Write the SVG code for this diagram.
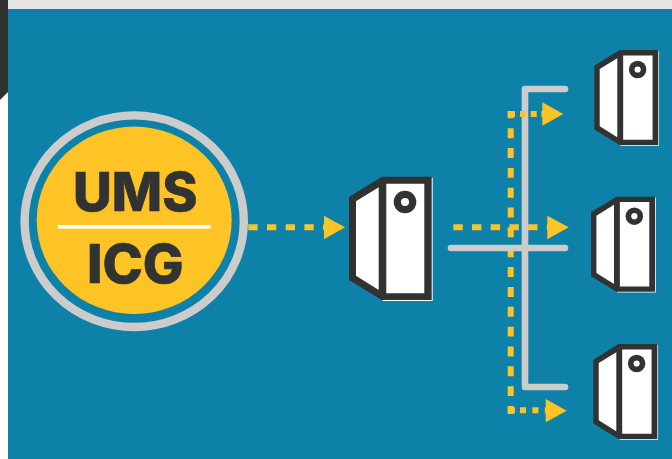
<svg xmlns="http://www.w3.org/2000/svg" width="672" height="459" viewBox="0 0 672 459">
<style>
.dark{fill:#313333}
.white{fill:#ffffff}
.y{fill:none;stroke:#fec325;stroke-width:6}
.arrow{fill:#fec325}
.grey{fill:none;stroke:#cccccc;stroke-width:6.6;stroke-linecap:round;stroke-linejoin:round}
.label{font-family:"Inter","Liberation Sans",sans-serif;font-weight:800;font-size:54px;fill:#313333;stroke:#313333;stroke-width:.7}
</style>
<defs>
<g id="server">
<path class="white" d="M33.7 1H83.7V124.3H33.7Z"/>
<path class="dark" d="M32.7 0H82.7V123.3H32.7L0 103.3V20.3Z"/>
<path class="white" d="M37.3 7H75.3V116.6H37.3Z"/>
<path class="white" d="M7 24.6L29.7 10.6V113.3L7 99Z"/>
<circle class="dark" cx="56" cy="25.3" r="11.3"/>
<circle class="white" cx="56" cy="25.3" r="4"/>
</g>
</defs>
<rect width="672" height="459" fill="#ffffff"/>
<path class="dark" d="M0 0H8V92L0 100Z"/>
<rect x="8" y="0" width="664" height="9" fill="#e6e6e6"/>
<rect x="8" y="9" width="664" height="450" fill="#0e81a8"/>
<g id="connectors">
<path class="y" d="M248.3 227.3H324" stroke-dasharray="9.3 9.4"/>
<path class="arrow" d="M324 215.7L345 227.3L324 239.3Z"/>
<path class="y" d="M453.3 227.3H548" stroke-dasharray="9.4 9.3"/>
<path class="y" d="M510.7 111V414" stroke-dasharray="9.92 9.92" stroke-dashoffset="2.6"/>
<path class="grey" d="M565 89H525V387H565"/>
<path class="grey" d="M451 248H565"/>
<path class="y" d="M507.7 114H515"/>
<path class="y" d="M520 114H543" stroke-dasharray="6 4.7"/>
<path class="y" d="M507.7 410.3H515"/>
<path class="y" d="M520 410.3H546" stroke-dasharray="6 6.4"/>
<path class="arrow" d="M547.3 215.7L568.7 227.3L547.3 239.3Z"/>
<path class="arrow" d="M542.3 102.3L563.3 114L542.3 125.7Z"/>
<path class="arrow" d="M545.7 399L566.7 410.7L545.7 422.3Z"/>
</g>
<g id="ums-icg">
<ellipse cx="134.2" cy="221.2" rx="109.6" ry="105.8" fill="none" stroke="#cccccc" stroke-width="8.4"/>
<ellipse cx="134.2" cy="220.3" rx="97.5" ry="93.7" fill="#fec325"/>
<rect x="57.7" y="225" width="153" height="3.6" fill="#ffffff"/>
<text class="label" x="73" y="211" textLength="124.4" lengthAdjust="spacingAndGlyphs">UMS</text>
<text class="label" x="87" y="282.5" textLength="96.7" lengthAdjust="spacingAndGlyphs">ICG</text>
</g>
<g id="server-main"><use href="#server" x="349" y="176.7"/></g>
<g id="server-top"><use href="#server" transform="translate(594.3 50) scale(.774 .77)"/></g>
<g id="server-middle"><use href="#server" transform="translate(591 196.7) scale(.774 .77)"/></g>
<g id="server-bottom"><use href="#server" transform="translate(593.3 344) scale(.774 .77)"/></g>
</svg>
